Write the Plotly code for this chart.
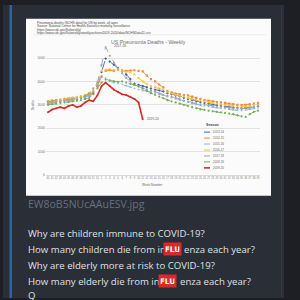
import plotly.graph_objects as go

W, H = 300, 300

weeks = [str(w) for w in list(range(40, 53)) + list(range(1, 40))]
seasons = ["2013-14", "2014-15", "2015-16", "2016-17", "2017-18", "2018-19", "2019-20"]

s1314 = [3120,3150,3180,3160,3200,3230,3260,3250,3300,3350,
         3400,3500,3800,4400,4980,4850,4720,4580,4430,4300,
         4100,3900,3850,3800,3750,3700,3650,3620,3580,3500,
         3450,3400,3360,3300,3250,3200,3150,3120,3080,3050,
         3000,2980,2950,2930,2900,2880,2870,2850,2860,2880,
         2900,2940]
s1415 = [3150,3180,3200,3220,3250,3280,3300,3320,3350,3400,
         3450,3550,3800,4200,4450,4480,4450,4500,4480,4450,
         4470,4480,4450,4430,4250,4100,4000,3870,3750,3600,
         3530,3480,3450,3420,3400,3350,3300,3250,3200,3180,
         3150,3120,3100,3080,3050,3030,3000,2990,3000,3020,
         3050,3080]
s1516 = [3050,3080,3100,3120,3150,3180,3200,3220,3280,3320,
         3400,3600,3900,4250,4150,4000,3950,3900,3880,3820,
         3750,3700,3650,3600,3580,3550,3500,3450,3400,3350,
         3300,3250,3200,3150,3100,3050,3000,2980,2950,2920,
         2900,2880,2850,2830,2800,2780,2760,2750,2770,2800,
         2830,2870]
s1617 = [3100,3130,3160,3200,3230,3250,3300,3330,3380,3420,
         3500,3650,3950,4450,4500,4520,4480,4500,4450,4420,
         4400,4300,4150,4000,3900,3800,3750,3700,3650,3550,
         3480,3420,3380,3350,3300,3250,3200,3180,3150,3100,
         3080,3050,3020,3000,2980,2950,2930,2920,2930,2950,
         2980,3000]
s1718 = [3080,3100,3130,3150,3180,3200,3230,3260,3300,3380,
         3500,3700,3950,4700,5490,5100,4800,4550,4350,4150,
         4000,3850,3780,3700,3650,3600,3550,3480,3420,3380,
         3330,3280,3230,3180,3130,3080,3050,3020,3000,2970,
         2950,2920,2900,2880,2860,2840,2830,2820,2840,2870,
         2900,2950]
s1819 = [3000,3020,3050,3080,3100,3120,3150,3170,3200,3250,
         3300,3450,3700,3950,4080,4050,4000,3980,4000,3950,
         3900,3850,3800,3700,3600,3500,3420,3350,3280,3200,
         3150,3100,3050,3000,2950,2900,2850,2800,2780,2750,
         2720,2700,2680,2650,2620,2600,2550,2500,2480,2600,
         2700,2750]
s1920 = [2680,2800,2850,2900,2850,2950,3000,2900,2950,3100,
         3200,3150,3400,3800,3950,3800,3650,3550,3450,3420,
         3350,3250,3100,2380]

series = [s1314, s1415, s1516, s1617, s1718, s1819, s1920]
colors = ["#3f63b8", "#ed8a3c", "#8fb3de", "#f5c230", "#a3a3ab", "#6fae55", "#d82a2a"]
symbols = ["diamond", "square", "triangle-up", "x", "circle", "circle", "circle"]

yticks = [0, 1000, 2000, 3000, 4000, 5000]

def fx(px):
    return px / W

def fy(py):
    return 1 - py / H

fig = go.Figure()
for name, vals, col, sym in zip(seasons, series, colors, symbols):
    red = name == "2019-20"
    fig.add_trace(go.Scatter(
        x=weeks[:len(vals)], y=vals, name=name, mode="lines+markers",
        line=dict(color=col, width=1.6 if red else 0.9, dash="solid" if red else "dash"),
        marker=dict(size=1.8 if red else 2.2, color=col, symbol=sym),
        showlegend=False,
    ))

shapes = []
shapes.append(dict(type="rect", xref="paper", yref="paper", x0=0, x1=1, y0=0, y1=1,
                   fillcolor="#1d1f25", line_width=0, layer="below"))
shapes.append(dict(type="rect", xref="paper", yref="paper", x0=fx(3), x1=fx(284), y0=0, y1=fy(5),
                   fillcolor="#2a2e36", line_width=0, layer="below"))
shapes.append(dict(type="rect", xref="paper", yref="paper", x0=fx(9.5), x1=fx(12), y0=0, y1=fy(5),
                   fillcolor="#2f5fae", line_width=0, layer="below"))
shapes.append(dict(type="rect", xref="paper", yref="paper", x0=fx(281), x1=fx(282), y0=0, y1=fy(5),
                   fillcolor="#33373f", line_width=0, layer="below"))
shapes.append(dict(type="rect", xref="paper", yref="paper", x0=fx(26), x1=fx(271), y0=fy(197), y1=fy(19),
                   fillcolor="#fbfbfb", line_width=0, layer="below"))
shapes.append(dict(type="line", xref="paper", yref="paper", x0=fx(33), x1=fx(266), y0=fy(35), y1=fy(35),
                   line=dict(color="#e4e4e4", width=0.6), layer="below"))

annotations = []
def ann(px, py, text, size, color, anchor="left", **kw):
    annotations.append(dict(xref="paper", yref="paper", x=fx(px), y=fy(py), text=text,
                            showarrow=False, xanchor=anchor, yanchor="middle",
                            font=dict(size=size, color=color, family=kw.pop("family", "Liberation Sans")), **kw))

ann(35, 23, "Pneumonia deaths (NCHS data) for US by week, all ages", 3.2, "#444")
ann(35, 26.5, "Source: National Center for Health Statistics mortality surveillance", 3.2, "#444")
ann(35, 30, "https://www.cdc.gov/flu/weekly/", 3.2, "#444")
ann(35, 33.5, "https://www.cdc.gov/flu/weekly/weeklyarchives2019-2020/data/NCHSData11.csv", 3.2, "#444")
ann(148, 42, "US Pneumonia Deaths - Weekly", 5.2, "#707070", anchor="center")
ann(112, 46, "2017-18", 3.2, "#555")
ann(145, 120, "2019-20", 3.2, "#555")
ann(33, 106, "Deaths", 3.2, "#666", anchor="center", textangle=-90)
ann(152, 186.5, "Week Number", 3.2, "#666", anchor="center")

ann(212, 126, "<b>Season</b>", 3.6, "#444", anchor="center")
for i, (name, col) in enumerate(zip(seasons, colors)):
    py = 133 + 6 * i
    shapes.append(dict(type="line", xref="paper", yref="paper", x0=fx(204), x1=fx(210), y0=fy(py), y1=fy(py),
                       line=dict(color=col, width=1.6 if i == 6 else 1)))
    ann(211, py, name, 3, "#666")

txt = "#dfe1e5"
fnt = "Open Sans"
fs = 9.6
ann(26, 205.5, "EW8oB5NUcAAuESV.jpg", 10.5, "#69707c", family=fnt)
ann(26, 235, "Why are children immune to COVID-19?", fs, txt, family=fnt)
ann(26, 251, "How many children die from in", fs, txt, family=fnt)
ann(172, 251, "<b>FLU</b>", 7.5, "#ffffff", anchor="center", family="DejaVu Sans",
    bgcolor="#d62b2b", borderpad=1.5, width=14)
ann(182, 251, "enza each year?", fs, txt, family=fnt)
ann(26, 267, "Why are elderly more at risk to COVID-19?", fs, txt, family=fnt)
ann(26, 283, "How many elderly die from in", fs, txt, family=fnt)
ann(167.5, 283, "<b>FLU</b>", 7.5, "#ffffff", anchor="center", family="DejaVu Sans",
    bgcolor="#d62b2b", borderpad=1.5, width=14)
ann(177.5, 283, "enza each year?", fs, txt, family=fnt)
ann(26, 297, "Q", fs, txt, family=fnt)

px0 = 48 - 0.5 * 210 / 51
px1 = 258 + 0.5 * 210 / 51
fig.update_layout(
    width=W, height=H, margin=dict(l=0, r=0, t=0, b=0),
    paper_bgcolor="#1d1f25", plot_bgcolor="rgba(0,0,0,0)",
    shapes=shapes, annotations=annotations,
    xaxis=dict(domain=[fx(px0), fx(px1)], type="category", categoryorder="array", categoryarray=weeks,
               range=[-0.5, 51.5], showgrid=False, showline=True, linecolor="#d9d9d9", linewidth=0.6,
               ticks="", tickfont=dict(size=2.6, color="#777", family="Liberation Sans"), ticklen=0,
               tickangle=0, zeroline=False),
    yaxis=dict(domain=[fy(176), fy(176 - 5.5 * 23.5)], range=[0, 5500], tickvals=yticks,
               ticktext=[str(v) for v in yticks], showgrid=True, gridcolor="#e2e2e2", gridwidth=0.6,
               zeroline=False, showline=False, ticks="", ticklen=0,
               tickfont=dict(size=3.4, color="#777", family="Liberation Sans")),
)
fig.write_html("out.html")
